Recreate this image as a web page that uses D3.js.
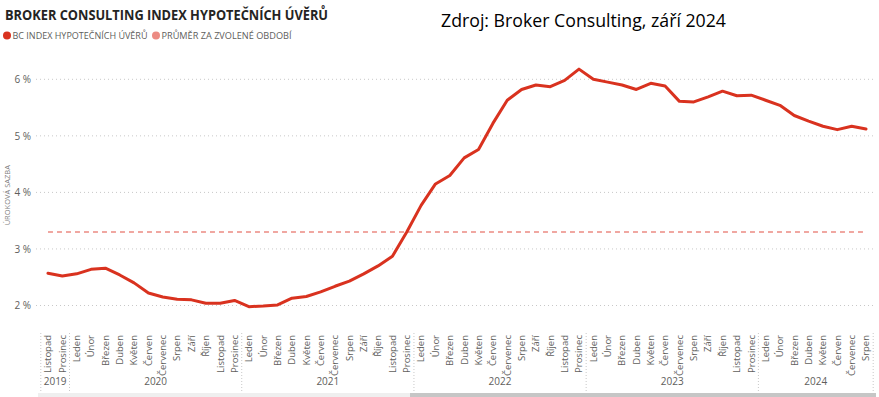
<!DOCTYPE html>
<html>
<head>
<meta charset="utf-8">
<script src="https://cdn.jsdelivr.net/npm/d3@7/dist/d3.min.js"></script>
<style>
  html, body { margin: 0; padding: 0; background: #fff; }
  .chart { width: 879px; height: 397px; }
  text { font-family: "Segoe UI", "Open Sans", "Noto Sans", sans-serif; }
</style>
</head>
<body>
<div class="chart"></div>
<script>
// month labels (Czech), year of each point and index value in %
const monthNames = ['Leden', 'Únor', 'Březen', 'Duben', 'Květen', 'Červen', 'Červenec', 'Srpen', 'Září', 'Říjen', 'Listopad', 'Prosinec']
const years = [2019, 2020, 2021, 2022, 2023, 2024]
const startMonth = 10 // Listopad 2019
const values = [
  2.57, 2.52,
  2.56, 2.64, 2.66, 2.54, 2.40, 2.22, 2.15, 2.11, 2.10, 2.04, 2.04, 2.09,
  1.98, 1.99, 2.01, 2.13, 2.16, 2.24, 2.34, 2.43, 2.56, 2.70, 2.87, 3.30,
  3.77, 4.15, 4.30, 4.61, 4.76, 5.22, 5.63, 5.82, 5.90, 5.87, 5.98, 6.18,
  6.00, 5.95, 5.90, 5.82, 5.93, 5.88, 5.61, 5.60, 5.69, 5.79, 5.71, 5.72,
  5.63, 5.54, 5.36, 5.26, 5.17, 5.11, 5.17, 5.12
]
const average = 3.30
const yTicks = [2, 3, 4, 5, 6]

const title = 'BROKER CONSULTING INDEX HYPOTEČNÍCH ÚVĚRŮ'
const legendLabels = ['BC INDEX HYPOTEČNÍCH ÚVĚRŮ', 'PRŮMĚR ZA ZVOLENÉ OBDOBÍ']
const source = 'Zdroj: Broker Consulting, září 2024'
const yTitle = 'ÚROKOVÁ SAZBA'

const lineColor = '#d9321f'
const avgColor = '#ec8b83'

const data = values.map((v, i) => {
  const m = startMonth + i
  return {
    key: i,
    month: monthNames[m % 12],
    year: years[0] + Math.floor(m / 12),
    value: v,
  }
})

const width = 879
const height = 397

const svg = d3
  .select('.chart')
  .append('svg')
  .attr('width', width)
  .attr('height', height)

const x = d3
  .scalePoint()
  .domain(data.map((d) => d.key))
  .range([40.8, 873.2])
  .padding(0.5)
const step = x.step()

const y = d3.scaleLinear().domain([2, 6]).range([305.5, 79.3])

// title, legend, source note
svg
  .append('text')
  .attr('x', 5)
  .attr('y', 20)
  .attr('font-size', '14.5px')
  .attr('font-weight', 'bold')
  .attr('fill', '#252423')
  .attr('textLength', 323)
  .attr('lengthAdjust', 'spacingAndGlyphs')
  .text(title)

const legend = svg.append('g')
const legendPos = [7, 156]
const legendColors = [lineColor, avgColor]
legendLabels.forEach((label, i) => {
  legend
    .append('circle')
    .attr('cx', legendPos[i])
    .attr('cy', 35.5)
    .attr('r', 4)
    .attr('fill', legendColors[i])
  legend
    .append('text')
    .attr('x', legendPos[i] + 5.5)
    .attr('y', 39)
    .attr('font-size', '9.5px')
    .attr('fill', '#605e5c')
    .attr('textLength', i === 0 ? 135 : 130)
    .attr('lengthAdjust', 'spacingAndGlyphs')
    .text(label)
})

svg
  .append('text')
  .attr('x', 441)
  .attr('y', 27)
  .attr('font-size', '19px')
  .attr('font-family', 'Carlito, Calibri, "Open Sans", sans-serif')
  .attr('fill', '#000')
  .attr('textLength', 285)
  .attr('lengthAdjust', 'spacingAndGlyphs')
  .text(source)

// y axis: dotted grid + labels
const yAxis = svg
  .append('g')
  .call(
    d3
      .axisLeft(y)
      .tickValues(yTicks)
      .tickSize(0)
      .tickPadding(0)
      .tickFormat((d) => `${d} %`)
  )
  .attr('transform', 'translate(31,0)')
yAxis.select('.domain').remove()
yAxis
  .selectAll('text')
  .attr('font-size', '10px')
  .attr('fill', '#605e5c')
  .style('font-family', '"Segoe UI", "Open Sans", sans-serif')

svg
  .append('g')
  .selectAll('line')
  .data(yTicks)
  .enter()
  .append('line')
  .attr('x1', 36)
  .attr('x2', 876)
  .attr('y1', (d) => y(d))
  .attr('y2', (d) => y(d))
  .attr('stroke', '#c8c8c8')
  .attr('stroke-width', 1)
  .attr('stroke-dasharray', '1,3')

svg
  .append('text')
  .attr('transform', `translate(9.5,${y(3.95)}) rotate(-90)`)
  .attr('text-anchor', 'middle')
  .attr('font-size', '7.5px')
  .attr('fill', '#7f7f7f')
  .text(yTitle)

// average line
svg
  .append('line')
  .attr('x1', x(0))
  .attr('x2', x(data.length - 1))
  .attr('y1', y(average))
  .attr('y2', y(average))
  .attr('stroke', avgColor)
  .attr('stroke-width', 1.5)
  .attr('stroke-dasharray', '5,4')

// index line
const line = d3
  .line()
  .x((d) => x(d.key))
  .y((d) => y(d.value))

svg
  .append('path')
  .datum(data)
  .attr('d', line)
  .attr('fill', 'none')
  .attr('stroke', lineColor)
  .attr('stroke-width', 3)
  .attr('stroke-linejoin', 'round')
  .attr('stroke-linecap', 'round')

// x axis: month labels, year labels, year separators
const xAxis = svg.append('g')
xAxis
  .selectAll('text.month')
  .data(data)
  .enter()
  .append('text')
  .attr('class', 'month')
  .attr('transform', (d) => `translate(${x(d.key)},335) rotate(-90)`)
  .attr('text-anchor', 'end')
  .attr('dy', '0.35em')
  .attr('font-size', '9.5px')
  .attr('fill', '#605e5c')
  .text((d) => d.month)

const yearGroups = d3.groups(data, (d) => d.year)
const bounds = [x(0) - step / 2]
yearGroups.forEach(([yr, items]) => {
  const first = x(items[0].key) - step / 2
  const last = x(items[items.length - 1].key) + step / 2
  bounds.push(last)
  xAxis
    .append('text')
    .attr('x', (first + last) / 2)
    .attr('y', 385)
    .attr('text-anchor', 'middle')
    .attr('font-size', '10px')
    .attr('fill', '#605e5c')
    .text(yr)
})

xAxis
  .selectAll('line.sep')
  .data(bounds)
  .enter()
  .append('line')
  .attr('class', 'sep')
  .attr('x1', (d) => d)
  .attr('x2', (d) => d)
  .attr('y1', 333)
  .attr('y2', 391)
  .attr('stroke', '#c8c8c8')
  .attr('stroke-dasharray', '1,2')

// scroll bar under the axis
svg
  .append('rect')
  .attr('x', 38)
  .attr('y', 393)
  .attr('width', 838)
  .attr('height', 4)
  .attr('fill', '#efefef')
svg
  .append('rect')
  .attr('x', 410)
  .attr('y', 393)
  .attr('width', 466)
  .attr('height', 4)
  .attr('fill', '#c6c6c6')
</script>
</body>
</html>
